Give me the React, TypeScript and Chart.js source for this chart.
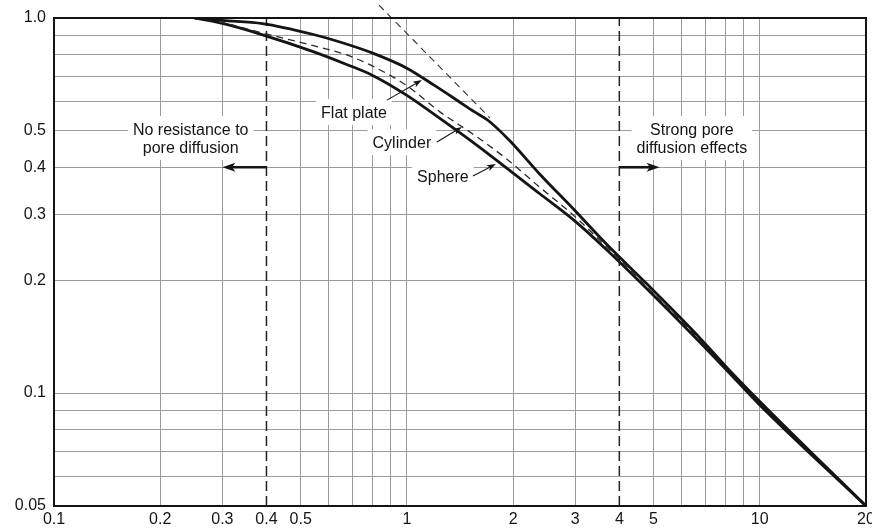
import React, { useEffect, useRef } from "react";
import { Chart, registerables } from "chart.js";

Chart.register(...registerables);

// ---- Data (Thiele modulus vs effectiveness factor) ----
const flatPlateX = [0.25, 0.3, 0.39, 0.54, 0.646, 0.8, 1.0, 1.2, 1.4, 1.55, 1.7, 1.96, 2.37, 2.96, 3.67, 4.8, 6.5, 8.0, 10, 20];
const flatPlateY = [1.0, 0.985, 0.966, 0.905, 0.863, 0.806, 0.735, 0.66, 0.6, 0.563, 0.533, 0.47, 0.385, 0.31, 0.25, 0.195, 0.146, 0.118, 0.095, 0.05];

const cylinderX = [0.25, 0.3, 0.39, 0.54, 0.675, 0.8, 1.0, 1.24, 1.54, 1.91, 2.37, 3.0, 3.7, 4.7, 6.5, 8.0, 10];
const cylinderY = [1.0, 0.972, 0.912, 0.845, 0.797, 0.744, 0.66, 0.562, 0.49, 0.422, 0.355, 0.295, 0.244, 0.195, 0.144, 0.117, 0.094];

const sphereX = [0.25, 0.3, 0.39, 0.54, 0.675, 0.8, 1.0, 1.24, 1.54, 1.91, 2.37, 3.0, 3.7, 4.7, 6.5, 8.0, 10, 20];
const sphereY = [1.0, 0.967, 0.902, 0.815, 0.752, 0.703, 0.622, 0.54, 0.466, 0.399, 0.341, 0.287, 0.24, 0.193, 0.142, 0.116, 0.093, 0.05];

const asymptoteX = [0.833, 1.72];
const asymptoteY = [1.083, 0.541];

const boundaryLowX = 0.4;
const boundaryHighX = 4;
const boundaryY = [0.05, 1.0];

const xGridValues = [0.1, 0.2, 0.3, 0.4, 0.5, 0.6, 0.7, 0.8, 0.9, 1, 2, 3, 4, 5, 6, 7, 8, 9, 10, 20];
const xLabelValues = [0.1, 0.2, 0.3, 0.4, 0.5, 1, 2, 3, 4, 5, 10, 20];
const xLabelTexts = ["0.1", "0.2", "0.3", "0.4", "0.5", "1", "2", "3", "4", "5", "10", "20"];

const yGridValues = [0.05, 0.06, 0.07, 0.08, 0.09, 0.1, 0.2, 0.3, 0.4, 0.5, 0.6, 0.7, 0.8, 0.9, 1.0];
const yLabelValues = [0.05, 0.1, 0.2, 0.3, 0.4, 0.5, 1.0];
const yLabelTexts = ["0.05", "0.1", "0.2", "0.3", "0.4", "0.5", "1.0"];

const noteTexts = [
  ["No resistance to", "pore diffusion"],
  ["Strong pore", "diffusion effects"],
  ["Flat plate"],
  ["Cylinder"],
  ["Sphere"],
];
const noteX = [0.244, 6.42, 0.708, 0.968, 1.265];
const noteY = [0.4757, 0.4757, 0.558, 0.464, 0.377];

const leaderFromX = [0.878, 1.216, 1.538];
const leaderFromY = [0.604, 0.467, 0.379];
const leaderToX = [1.103, 1.432, 1.787];
const leaderToY = [0.683, 0.512, 0.408];

const regionFromX = [0.4, 4];
const regionToX = [0.3, 5.2];
const regionArrowY = 0.4;

const FONT_FAMILY = '"Liberation Sans", Arial, sans-serif';
const FONT = "16px " + FONT_FAMILY;
const INK = "#141414";
const GRID = "#9c9c9c";

function pts(xs: number[], ys: number[]) {
  return xs.map((x, i) => ({ x, y: ys[i] }));
}

function drawArrow(ctx: CanvasRenderingContext2D, x1: number, y1: number, x2: number, y2: number, lw: number, head: number, headW: number) {
  const a = Math.atan2(y2 - y1, x2 - x1);
  const c = Math.cos(a), s = Math.sin(a);
  ctx.lineWidth = lw;
  ctx.beginPath();
  ctx.moveTo(x1, y1);
  ctx.lineTo(x2 - c * head * 0.7, y2 - s * head * 0.7);
  ctx.stroke();
  ctx.beginPath();
  ctx.moveTo(x2, y2);
  ctx.lineTo(x2 - head * c + headW * s, y2 - head * s - headW * c);
  ctx.lineTo(x2 - head * c * 0.75, y2 - head * s * 0.75);
  ctx.lineTo(x2 - head * c - headW * s, y2 - head * s + headW * c);
  ctx.closePath();
  ctx.fill();
}

const notesPlugin = {
  id: "notes",
  beforeDatasetsDraw(chart: any) {
    const { ctx, scales } = chart;
    const xs = scales.x, ys = scales.y;
    ctx.save();
    ctx.font = FONT;
    ctx.textAlign = "center";
    ctx.textBaseline = "middle";
    const lh = 18;
    noteTexts.forEach((lines, i) => {
      const cx = xs.getPixelForValue(noteX[i]);
      const cy = ys.getPixelForValue(noteY[i]);
      const w = Math.max(...lines.map((l) => ctx.measureText(l).width));
      const h = lines.length * lh;
      ctx.fillStyle = "#ffffff";
      ctx.fillRect(cx - w / 2 - 5, cy - h / 2 - 5, w + 10, h + 8);
      ctx.fillStyle = INK;
      lines.forEach((l, k) => ctx.fillText(l, cx, cy - h / 2 + lh / 2 + k * lh + 1));
    });
    ctx.restore();
  },
  afterDatasetsDraw(chart: any) {
    const { ctx, scales, chartArea } = chart;
    const xs = scales.x, ys = scales.y;
    ctx.save();
    ctx.strokeStyle = INK;
    ctx.fillStyle = INK;
    leaderFromX.forEach((_, i) => {
      drawArrow(
        ctx,
        xs.getPixelForValue(leaderFromX[i]), ys.getPixelForValue(leaderFromY[i]),
        xs.getPixelForValue(leaderToX[i]), ys.getPixelForValue(leaderToY[i]),
        1.1, 9, 3.2
      );
    });
    regionFromX.forEach((_, i) => {
      const py = ys.getPixelForValue(regionArrowY);
      drawArrow(ctx, xs.getPixelForValue(regionFromX[i]), py, xs.getPixelForValue(regionToX[i]), py, 2.6, 13, 4.5);
    });
    ctx.lineWidth = 2;
    ctx.strokeStyle = INK;
    ctx.strokeRect(chartArea.left, chartArea.top, chartArea.right - chartArea.left, chartArea.bottom - chartArea.top);
    ctx.restore();
  },
};

export default function App() {
  const ref = useRef<HTMLCanvasElement | null>(null);

  useEffect(() => {
    if (!ref.current) return;
    const hideAt = (v: number) => v === boundaryLowX || v === boundaryHighX;
    const curve = (label: string, data: any, extra: any) => ({
      label,
      data,
      showLine: true,
      pointRadius: 0,
      borderColor: INK,
      ...extra,
    });
    const chart = new Chart(ref.current, {
      type: "scatter",
      data: {
        datasets: [
          curve("Flat plate", pts(flatPlateX, flatPlateY), { borderWidth: 2.8, cubicInterpolationMode: "monotone" }),
          curve("Cylinder", pts(cylinderX, cylinderY), { borderColor: "#2a2a2a", borderWidth: 1.3, borderDash: [7, 5], cubicInterpolationMode: "monotone" }),
          curve("Sphere", pts(sphereX, sphereY), { borderWidth: 2.8, cubicInterpolationMode: "monotone" }),
          curve("Asymptote", pts(asymptoteX, asymptoteY), { borderColor: "#333333", borderWidth: 1.1, borderDash: [7, 5], clip: false }),
          curve("Low boundary", pts([boundaryLowX, boundaryLowX], boundaryY), { borderColor: "#222222", borderWidth: 1.5, borderDash: [10, 5] }),
          curve("High boundary", pts([boundaryHighX, boundaryHighX], boundaryY), { borderColor: "#222222", borderWidth: 1.5, borderDash: [10, 5] }),
        ],
      } as any,
      options: {
        animation: false,
        responsive: false,
        devicePixelRatio: 1,
        layout: { padding: { top: 18, right: 6, left: 0, bottom: 0 }, autoPadding: false } as any,
        plugins: { legend: { display: false }, tooltip: { enabled: false } },
        scales: {
          x: {
            type: "logarithmic",
            min: 0.1,
            max: 20,
            border: { display: false },
            grid: {
              color: (c: any) => (c.tick && hideAt(c.tick.value) ? "rgba(0,0,0,0)" : GRID),
              lineWidth: 1,
              drawTicks: false,
            },
            ticks: {
              autoSkip: false,
              maxRotation: 0,
              padding: 4,
              color: INK,
              font: { family: FONT_FAMILY, size: 16 },
              callback: (v: any) => {
                const i = xLabelValues.indexOf(Number(v));
                return i >= 0 ? xLabelTexts[i] : "";
              },
            },
            afterBuildTicks: (s: any) => {
              s.ticks = xGridValues.map((v) => ({ value: v }));
            },
            afterFit: (s: any) => {
              s.height = 23;
              s.paddingLeft = 0;
              s.paddingRight = 0;
            },
          },
          y: {
            type: "logarithmic",
            min: 0.05,
            max: 1.0,
            border: { display: false },
            grid: { color: GRID, lineWidth: 1, drawTicks: false },
            ticks: {
              autoSkip: false,
              padding: 8,
              color: INK,
              font: { family: FONT_FAMILY, size: 16 },
              callback: (v: any) => {
                const i = yLabelValues.indexOf(Number(v));
                return i >= 0 ? yLabelTexts[i] : "";
              },
            },
            afterBuildTicks: (s: any) => {
              s.ticks = yGridValues.map((v) => ({ value: v }));
            },
            afterFit: (s: any) => {
              s.width = 54;
              s.paddingTop = 0;
              s.paddingBottom = 0;
            },
          },
        },
      } as any,
      plugins: [notesPlugin],
    });
    return () => chart.destroy();
  }, []);

  return (
    <div style={{ position: "absolute", left: 0, top: 0, width: 872, height: 529, background: "#fff" }}>
      <canvas ref={ref} width={872} height={529} style={{ display: "block", width: 872, height: 529 }} />
    </div>
  );
}
